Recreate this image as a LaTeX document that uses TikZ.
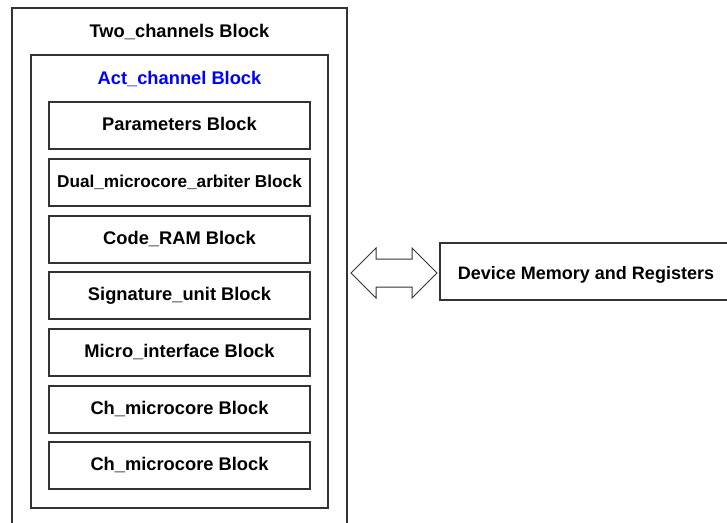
\documentclass[tikz,border=0pt]{standalone}
\usepackage{fontspec}
\setmainfont{Liberation Sans}
\begin{document}
\begin{tikzpicture}[x=1pt,y=-1pt,
  frame/.style={draw=black!80,line width=1.2pt},
  lbl/.style={font=\fontsize{18.3}{20}\selectfont\bfseries,inner sep=0pt,anchor=base},
  blockbox/.style={frame,minimum width=261pt,minimum height=47pt,inner sep=0pt},
  blabel/.style={lbl}]
\useasboundingbox (0,0) rectangle (727,522);
\clip (0,0) rectangle (727,522);
\draw[frame] (12,8) rectangle (347,530);
\node[lbl] (two) at (179.5,37) {Two\_channels Block};
\draw[frame] (31,55) rectangle (328,508);
\node[lbl,text={rgb,255:red,0;green,0;blue,255}] (act) at (179.5,84) {Act\_channel Block};
\foreach \n/\y/\sz/\t in {p/125.5/18.3/Parameters Block, d/182.5/17.2/{Dual\_microcore\_arbiter Block}, c/239.5/18.3/Code\_RAM Block, s/295.5/18.3/Signature\_unit Block, m/352.5/18.3/Micro\_interface Block, h1/409.5/18.3/Ch\_microcore Block, h2/465.5/18.3/Ch\_microcore Block}{
  \node[blockbox] (\n) at (179.5,\y) {};
  \node[blabel,font=\fontsize{\sz}{20}\selectfont\bfseries] (\n t) at ([yshift=-5pt]\n.center) {\t};
}
\draw[frame] (440,243) rectangle (740,300);
\node[lbl,font=\fontsize{18}{20}\selectfont\bfseries] (dev) at (586,279) {Device Memory and Registers};
\draw[draw=black!80,line width=1pt,line join=miter]
  (351,273) -- (376,248) -- (376,259) -- (412,259) -- (412,248) -- (437,273)
  -- (412,298) -- (412,287) -- (376,287) -- (376,298) -- cycle;
\end{tikzpicture}
\end{document}
